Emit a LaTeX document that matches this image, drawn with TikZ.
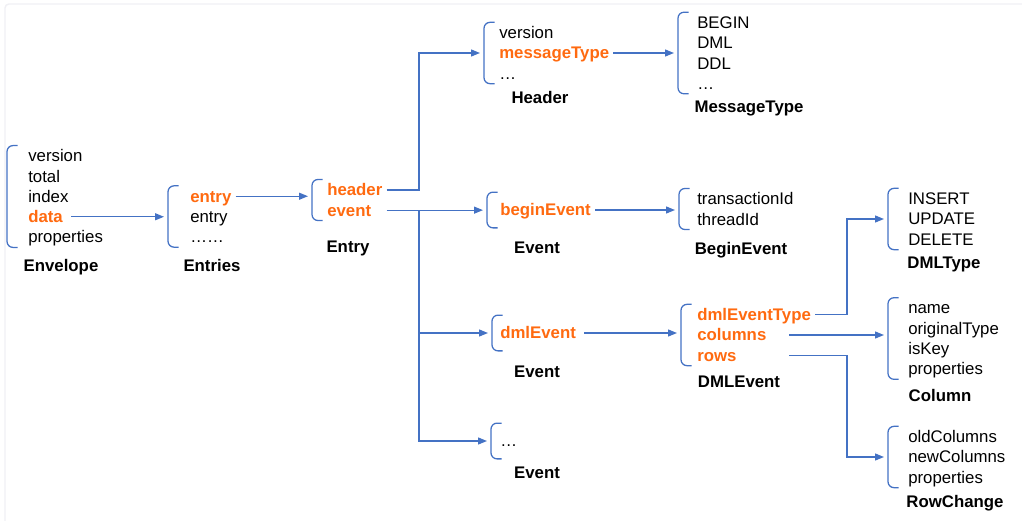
\documentclass[tikz,border=0pt]{standalone}
\usepackage{fontspec}
\setmainfont{Liberation Sans}
\usetikzlibrary{arrows.meta,calc,matrix,positioning}
\definecolor{linkBlue}{HTML}{4472C4}
\definecolor{keyOrange}{HTML}{FF6A10}
\definecolor{frameGray}{HTML}{F0F0F4}
\newcommand\itemfont{\fontsize{12.6pt}{15.2pt}\selectfont}
\tikzset{
  item/.style={anchor=west, inner xsep=0pt, inner ysep=1pt, text height=11pt, text depth=2.2pt,
        font=\itemfont},
  key/.style={text=keyOrange, font=\itemfont\bfseries},
  grp/.style={matrix of nodes, matrix anchor=west, inner xsep=12pt, inner ysep=0pt, row sep=0pt,
        nodes={item}},
  single/.style={inner ysep=5.6pt},
  lbl/.style={font=\itemfont\bfseries, inner sep=0pt, text height=11pt, text depth=2.2pt},
  brace/.style={draw=linkBlue, line width=0.95pt, rounded corners=4.5pt},
  link/.style={draw=linkBlue, line width=0.95pt, -{Triangle[length=6.75pt,width=5.25pt]},
        shorten >=3pt},
  frameline/.style={draw=frameGray, line width=1.1pt, rounded corners=3pt},
}
% left bracket in front of a field list
\newcommand\grpbrace[1]{%
  \draw[brace] ([xshift=8pt]#1.north west) -- (#1.north west) -- (#1.south west)
    -- ([xshift=8pt]#1.south west);}

\begin{document}
\begin{tikzpicture}[x=0.75pt, y=-0.75pt]
  \useasboundingbox (0,0) rectangle (1022,521);
  \draw[frameline] (5,521) |- (1022,4);
  % field lists
  \matrix[grp, inner xsep=15.75pt] (env) at (7,196.5)
    {version\\ total\\ index\\ |[key]| data\\ properties\\};
  \matrix[grp, inner xsep=16.5pt] (entries) at (168,216.5)
    {|[key]| entry\\ entry\\ ……\\};
  \matrix[grp, inner xsep=11.25pt] (entry) at (312,200)
    {|[key]| header\\ |[key]| event\\};
  \matrix[grp, inner xsep=11.25pt] (header) at (484,53)
    {version\\ |[key]| messageType\\ …\\};
  \matrix[grp, inner xsep=14.25pt] (msgtype) at (678,53)
    {BEGIN\\ DML\\ DDL\\ …\\};
  \matrix[grp, single, inner xsep=9.75pt] (evbegin) at (487,210)
    {|[key]| beginEvent\\};
  \matrix[grp, inner xsep=13.5pt] (beginevent) at (679,209)
    {transactionId\\ threadId\\};
  \matrix[grp, single, inner xsep=6pt] (evdml) at (492,333)
    {|[key]| dmlEvent\\};
  \matrix[grp, inner xsep=12pt] (dmlevent) at (681,335)
    {|[key]| dmlEventType\\ |[key]| columns\\ |[key]| rows\\};
  \matrix[grp, inner xsep=15pt] (dmltype) at (888,219)
    {INSERT\\ UPDATE\\ DELETE\\};
  \matrix[grp, inner xsep=15pt] (column) at (888,338.5)
    {name\\ originalType\\ isKey\\ properties\\};
  \matrix[grp, inner xsep=15pt] (rowchange) at (888,457)
    {oldColumns\\ newColumns\\ properties\\};
  \matrix[grp, single, inner xsep=6.75pt] (evmore) at (491,441)
    {…\\};
  \foreach \g in {env,entries,entry,header,msgtype,evbegin,beginevent,evdml,dmlevent,
                  dmltype,column,rowchange,evmore}
    {\grpbrace{\g}}
  % type names
  \node[lbl] (envlbl)        at (61,266)  {Envelope};
  \node[lbl] (entrieslbl)    at (212,266) {Entries};
  \node[lbl] (entrylbl)      at (348,247) {Entry};
  \node[lbl] (headerlbl)     at (540,98)  {Header};
  \node[lbl] (msgtypelbl)    at (749,107) {MessageType};
  \node[lbl] (evbeginlbl)    at (537,248) {Event};
  \node[lbl] (begineventlbl) at (741,249) {BeginEvent};
  \node[lbl] (evdmllbl)      at (537,372) {Event};
  \node[lbl] (dmleventlbl)   at (739,382) {DMLEvent};
  \node[lbl] (dmltypelbl)    at (944,263) {DMLType};
  \node[lbl] (columnlbl)     at (940,396) {Column};
  \node[lbl] (rowchangelbl)  at (955,502) {RowChange};
  \node[lbl] (evmorelbl)     at (537,473) {Event};
  % bend points of the elbow links
  \coordinate (fork) at (419,0);
  \coordinate (bend) at (847,0);
  % links
  \draw[link, shorten <=6pt] (env-4-1.east) -- (env-4-1 -| entries.west);
  \draw[link, shorten <=3pt] (entries-1-1.east) -- (entries-1-1 -| entry.west);
  \draw[link, shorten <=3pt] (entry-1-1.east) -- (entry-1-1 -| fork) |- (header.west);
  \draw[link, shorten <=3pt] (entry-2-1 -| entry-1-1.east) -- (entry-2-1 -| evbegin.west);
  \draw[link] (entry-2-1 -| fork) |- (evdml.west);
  \draw[link] (entry-2-1 -| fork) |- (evmore.west);
  \draw[link, shorten <=3pt] (header-2-1.east) -- (header-2-1 -| msgtype.west);
  \draw[link, shorten <=3pt] (evbegin-1-1.east) -- (evbegin-1-1 -| beginevent.west);
  \draw[link, shorten <=6pt] (evdml-1-1.east) -- (evdml-1-1 -| dmlevent.west);
  \draw[link, shorten <=3pt] (dmlevent-1-1.east) -- (dmlevent-1-1 -| bend) |- (dmltype.west);
  \draw[link] ($(dmlevent-2-1 -| dmlevent-1-1.east)+(-22,0)$) -- (dmlevent-2-1 -| column.west);
  \draw[link] ($(dmlevent-3-1 -| dmlevent-1-1.east)+(-22,0)$) -- (dmlevent-3-1 -| bend)
    |- (rowchange.west);
\end{tikzpicture}
\end{document}
